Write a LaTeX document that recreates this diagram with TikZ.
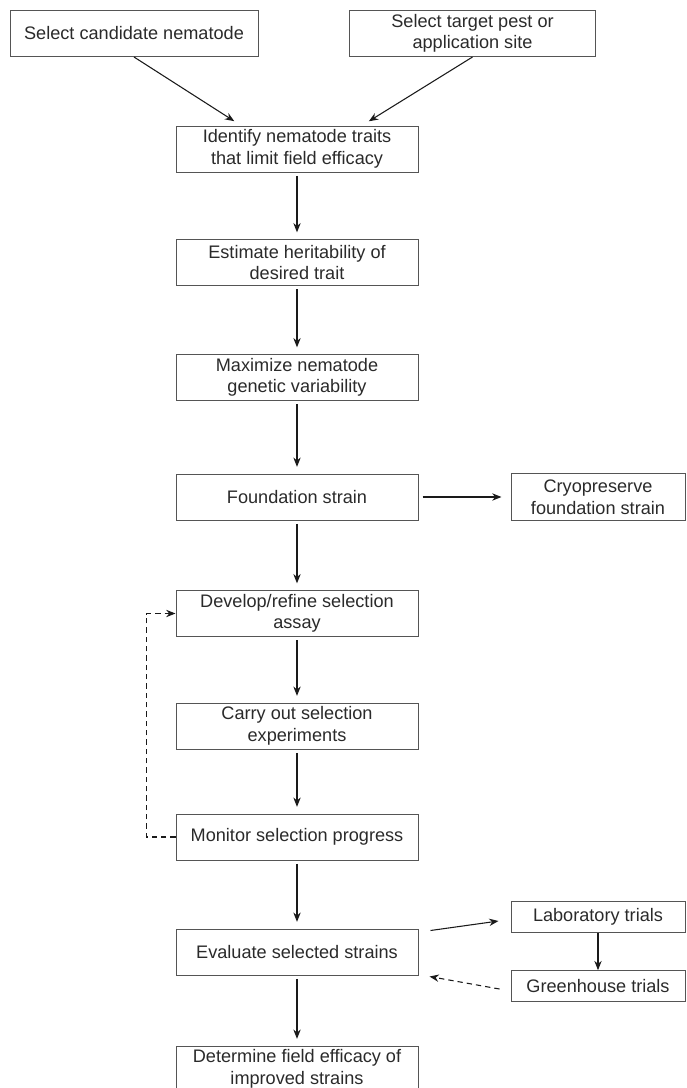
\documentclass[tikz,border=0pt]{standalone}
\usepackage{fontspec}
\setmainfont{Liberation Sans}
\usetikzlibrary{arrows.meta, calc}
\definecolor{boxgray}{HTML}{555555}
\definecolor{textgray}{HTML}{2A2A2A}
\definecolor{arrowgray}{HTML}{1A1A1A}

\begin{document}
\begin{tikzpicture}[
    x=0.75pt, y=-0.75pt,
    >=Stealth,
    box/.style={draw=boxgray, line width=0.75pt, minimum width=181.5pt,
        minimum height=34.5pt, inner sep=1pt, align=center, text=textgray,
        font=\fontsize{13.6}{16.2}\selectfont},
    sidebox/.style={box, minimum width=130.5pt, minimum height=23pt},
    arr/.style={draw=arrowgray, line width=0.8pt, -{Stealth[length=7pt,width=5.5pt]}},
    down/.style={arr, shorten <=2.5pt, shorten >=5pt},
    dasharr/.style={arr, dash pattern=on 4pt off 3pt}
]

% Page frame
\useasboundingbox (0,0) rectangle (686,1088);

% Starting points
\node[box, minimum width=186pt] (candidate) at (134,33.5) {Select candidate nematode};
\node[box, minimum width=185pt] (target) at (472.5,33.5) {Select target pest or\\application site};

% Main column
\node[box] (identify) at (297,149) {Identify nematode traits\\that limit field efficacy};
\node[box] (heritability) at (297,262.5) {Estimate heritability of\\desired trait};
\node[box] (variability) at (297,377.5) {Maximize nematode\\genetic variability};
\node[box] (foundation) at (297,497) {Foundation strain};
\node[box] (assay) at (297,613.5) {Develop/refine selection\\assay};
\node[box] (experiments) at (297,726) {Carry out selection\\experiments};
\node[box] (progress) at (297,837) {Monitor selection progress};
\node[box] (evaluate) at (297,952) {Evaluate selected strains};
\node[box] (fieldeff) at (297,1069) {Determine field efficacy of\\improved strains};

% Side boxes
\node[sidebox, minimum height=35pt] (cryo) at (598,497) {Cryopreserve\\foundation strain};
\node[sidebox] (lab) at (598,917) {Laboratory trials};
\node[sidebox] (greenhouse) at (598,986) {Greenhouse trials};

% Arrows
\draw[arr, shorten >=6pt] (candidate.south) -- ([xshift=-42pt]identify.north);
\draw[arr, shorten >=6pt] (target.south) -- ([xshift=48.75pt]identify.north);
\draw[down] (identify) -- (heritability);
\draw[down] (heritability) -- (variability);
\draw[down] (variability) -- (foundation);
\draw[arr, shorten <=3pt, shorten >=6.75pt] (foundation) -- (cryo);
\draw[down] (foundation) -- (assay);
\draw[down] (assay) -- (experiments);
\draw[down] (experiments) -- (progress);
\draw[down] (progress) -- (evaluate);
\draw[down] (evaluate) -- (fieldeff);
\draw[arr] ($(evaluate.north east)+(12,2)$) -- ($(lab.west)+(-12,4)$);
\draw[arr] (lab) -- (greenhouse);

% Feedback (dashed)
\draw[dasharr] (progress.west) -- ++(-29,0) |- (assay.west);
\draw[dasharr] ($(greenhouse.west)+(-11,3)$) -- ($(evaluate.south east)+(11,1)$);

\end{tikzpicture}
\end{document}
